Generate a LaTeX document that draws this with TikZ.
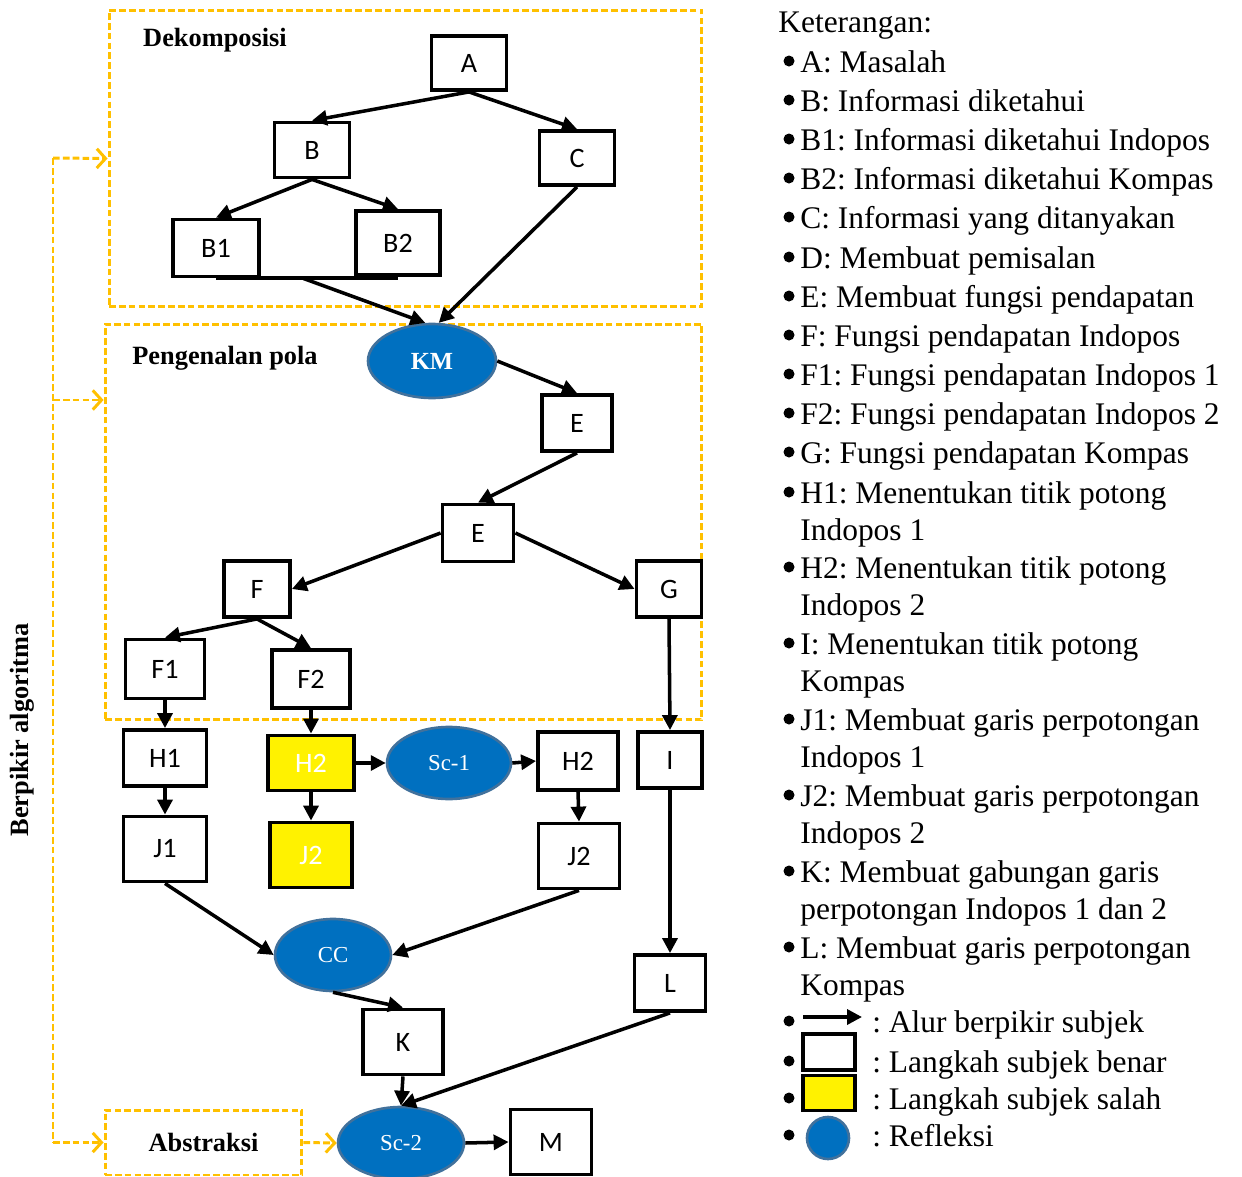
\documentclass[tikz,border=0pt]{standalone}
\usepackage{fontspec}
\setmainfont{Liberation Serif}
\newfontfamily\boxfont{Carlito}
\usetikzlibrary{arrows.meta,shapes.geometric,calc}
\frenchspacing

\definecolor{phaseorange}{HTML}{FFC000}
\definecolor{reflblue}{HTML}{0070C0}
\definecolor{reflborder}{HTML}{41719C}

\tikzset{
    stepbox/.style={draw, line width=2.2pt, fill=white, inner sep=0pt, font=\boxfont\fontsize{16}{16}\selectfont},
    wrongbox/.style={stepbox, fill=yellow, text=white},
    refl/.style={ellipse, fill=reflblue, draw=reflborder, line width=1.5pt, text=white, inner sep=0pt, font=\fontsize{13}{13}\selectfont},
    flow/.style={-{Triangle[length=8.5pt,width=8.5pt]}, line width=2pt},
    phase/.style={draw=phaseorange, line width=1.7pt, dash pattern=on 3.8pt off 1.8pt},
    phasearrow/.style={phase, -{Straight Barb[length=5pt,width=11pt]}},
    phasebox/.style={phase, rectangle, inner sep=0pt},
    heading/.style={font=\bfseries\fontsize{15}{15}\selectfont},
    legend/.style={anchor=base west, inner sep=0pt, font=\fontsize{17.9}{17.9}\selectfont},
}

\begin{document}
\begin{tikzpicture}[x=0.02cm, y=-0.02cm]
    \useasboundingbox (0,0) rectangle (1242,1177);

    % Phase boxes
    \node[phasebox, minimum width=11.86cm, minimum height=5.94cm] (dekomp) at (405.5,158.5) {};
    \node[phasebox, minimum width=11.94cm, minimum height=7.92cm] (pola) at (403.5,522) {};
    \node[phasebox, minimum width=3.94cm, minimum height=1.3cm, heading] (abstr) at (203.5,1142.5) {Abstraksi};
    \node[heading] (dekomplabel) at (215,40) {Dekomposisi};
    \node[heading] (polalabel) at (225,358) {Pengenalan pola};
    \node[heading, rotate=90] (berpikir) at (22,730) {Berpikir algoritma};

    % Draw nodes
    \node[stepbox, minimum width=1.5cm, minimum height=1.08cm] (A) at (469,63) {A};
    \node[stepbox, minimum width=1.5cm, minimum height=1.1cm] (B) at (312,150) {B};
    \node[stepbox, minimum width=1.5cm, minimum height=1.08cm] (C) at (577,158) {C};
    \node[stepbox, minimum width=1.72cm, minimum height=1.14cm] (B1) at (216,248) {B1};
    \node[stepbox, minimum width=1.68cm, minimum height=1.28cm] (B2) at (398,243) {B2};
    \node[refl, minimum width=2.56cm, minimum height=1.48cm, font=\bfseries\fontsize{14}{14}\selectfont] (KM) at (432,361) {KM};
    \node[stepbox, minimum width=1.4cm, minimum height=1.12cm] (E1) at (577,423) {E};
    \node[stepbox, minimum width=1.42cm, minimum height=1.14cm] (E2) at (478,533) {E};
    \node[stepbox, minimum width=1.32cm, minimum height=1.12cm] (F) at (257,589) {F};
    \node[stepbox, minimum width=1.3cm, minimum height=1.12cm] (G) at (669,589) {G};
    \node[stepbox, minimum width=1.58cm, minimum height=1.18cm] (F1) at (165,669) {F1};
    \node[stepbox, minimum width=1.56cm, minimum height=1.16cm] (F2) at (311,679) {F2};
    \node[stepbox, minimum width=1.66cm, minimum height=1.12cm] (H1) at (165,758) {H1};
    \node[wrongbox, minimum width=1.72cm, minimum height=1.1cm] (H2a) at (311,763) {H2};
    \node[refl, minimum width=2.48cm, minimum height=1.44cm] (Sc1) at (449,763) {Sc-1};
    \node[stepbox, minimum width=1.6cm, minimum height=1.16cm] (H2b) at (578,761) {H2};
    \node[stepbox, minimum width=1.28cm, minimum height=1.12cm] (I) at (670,760) {I};
    \node[stepbox, minimum width=1.66cm, minimum height=1.3cm] (J1) at (165,849) {J1};
    \node[wrongbox, minimum width=1.64cm, minimum height=1.3cm] (J2a) at (311,855) {J2};
    \node[stepbox, minimum width=1.62cm, minimum height=1.3cm] (J2b) at (579,856) {J2};
    \node[refl, minimum width=2.32cm, minimum height=1.44cm] (CC) at (333,955) {CC};
    \node[stepbox, minimum width=1.42cm, minimum height=1.12cm] (L) at (670,983) {L};
    \node[stepbox, minimum width=1.6cm, minimum height=1.3cm] (K) at (403,1042) {K};
    \node[refl, minimum width=2.52cm, minimum height=1.44cm] (Sc2) at (401,1143) {Sc-2};
    \node[stepbox, minimum width=1.62cm, minimum height=1.3cm] (M) at (551,1142) {M};

    % Draw connections
    \draw[flow] (A.south) -- (B.north);
    \draw[flow] (A.south) -- (C.north);
    \draw[flow] (B.south) -- (B1.north);
    \draw[flow] (B.south) -- (B2.north);
    \draw[line width=2.2pt] (B1.south) -- (B2.south |- B1.south);
    \coordinate (Bjoin) at ($(B1.south)!0.48!(B2.south |- B1.south)$);
    \draw[flow] (Bjoin) -- (KM.100);
    \draw[flow] (C.south) -- (KM.80);
    \draw[flow] (KM.east) -- (E1.north);
    \draw[flow] (E1.south) -- (E2.north);
    \draw[flow] (E2.west) -- (F.east);
    \draw[flow] (E2.east) -- (G.west);
    \draw[flow] (F.south) -- (F1.north);
    \draw[flow] (F.south) -- (F2.north);
    \draw[flow] (G.south) -- (I.north);
    \draw[flow] (F1.south) -- (H1.north);
    \draw[flow] (F2.south) -- (H2a.north);
    \draw[flow] (H1.south) -- (J1.north);
    \draw[flow] (H2a.south) -- (J2a.north);
    \draw[flow] (H2a.east) -- (Sc1.west);
    \draw[flow] (Sc1.east) -- (H2b.west);
    \draw[flow] (H2b.south) -- (J2b.north);
    \draw[flow] (I.south) -- (L.north);
    \draw[flow] (J1.south) -- (CC.west);
    \draw[flow] (J2b.south) -- (CC.east);
    \draw[flow] (CC.south) -- (K.north);
    \draw[flow] (K.south) -- (Sc2.north);
    \draw[flow] (L.south) -- (Sc2.north);
    \draw[flow] (Sc2.east) -- (M.west);

    % Phase connections
    \coordinate (spinetop) at (53,158);
    \coordinate (spinemid) at (53,400);
    \coordinate (spinebot) at (53,1142.5);
    \draw[phase] (spinetop) -- (spinebot);
    \draw[phasearrow] (spinetop) -- (dekomp.west);
    \draw[phasearrow] (spinemid) -- (pola.west |- spinemid);
    \draw[phasearrow] (spinebot) -- (abstr.west);
    \draw[phasearrow] (abstr.east) -- (Sc2.west);

    % Legend
    \node[legend] (ket) at (778,32) {Keterangan:};
    \foreach \yy/\txt in {72/{A: Masalah}, 111/{B: Informasi diketahui},
        150/{B1: Informasi diketahui Indopos}, 189/{B2: Informasi diketahui Kompas},
        228/{C: Informasi yang ditanyakan}, 268/{D: Membuat pemisalan},
        307/{E: Membuat fungsi pendapatan}, 346/{F: Fungsi pendapatan Indopos},
        385/{F1: Fungsi pendapatan Indopos 1}, 424/{F2: Fungsi pendapatan Indopos 2},
        463/{G: Fungsi pendapatan Kompas}, 503/{H1: Menentukan titik potong},
        578/{H2: Menentukan titik potong}, 654/{I: Menentukan titik potong},
        730/{J1: Membuat garis perpotongan}, 806/{J2: Membuat garis perpotongan},
        882/{K: Membuat gabungan garis}, 958/{L: Membuat garis perpotongan}}
    {
        \fill (789,\yy-11) circle (0.11cm);
        \node[legend] at (800,\yy) {\txt};
    }
    \foreach \yy/\txt in {540/{Indopos 1}, 615/{Indopos 2}, 691/{Kompas},
        767/{Indopos 1}, 843/{Indopos 2}, 919/{perpotongan Indopos 1 dan 2}, 995/{Kompas}}
    {
        \node[legend] at (800,\yy) {\txt};
    }
    \foreach \yy in {1032, 1072, 1109, 1146}
    {
        \fill (789,\yy-11) circle (0.11cm);
    }
    \coordinate (legarrowstart) at (803,1017);
    \coordinate (legarrowend) at (862,1017);
    \draw[flow] (legarrowstart) -- (legarrowend);
    \node[stepbox, minimum width=1.04cm, minimum height=0.72cm] (legbenar) at (829,1052) {};
    \node[wrongbox, minimum width=1.04cm, minimum height=0.7cm] (legsalah) at (829,1093) {};
    \node[refl, circle, minimum size=0.84cm] (legrefl) at (828,1138) {};
    \node[legend] at (872,1032) {: Alur berpikir subjek};
    \node[legend] at (872,1072) {: Langkah subjek benar};
    \node[legend] at (872,1109) {: Langkah subjek salah};
    \node[legend] at (872,1146) {: Refleksi};
\end{tikzpicture}
\end{document}
